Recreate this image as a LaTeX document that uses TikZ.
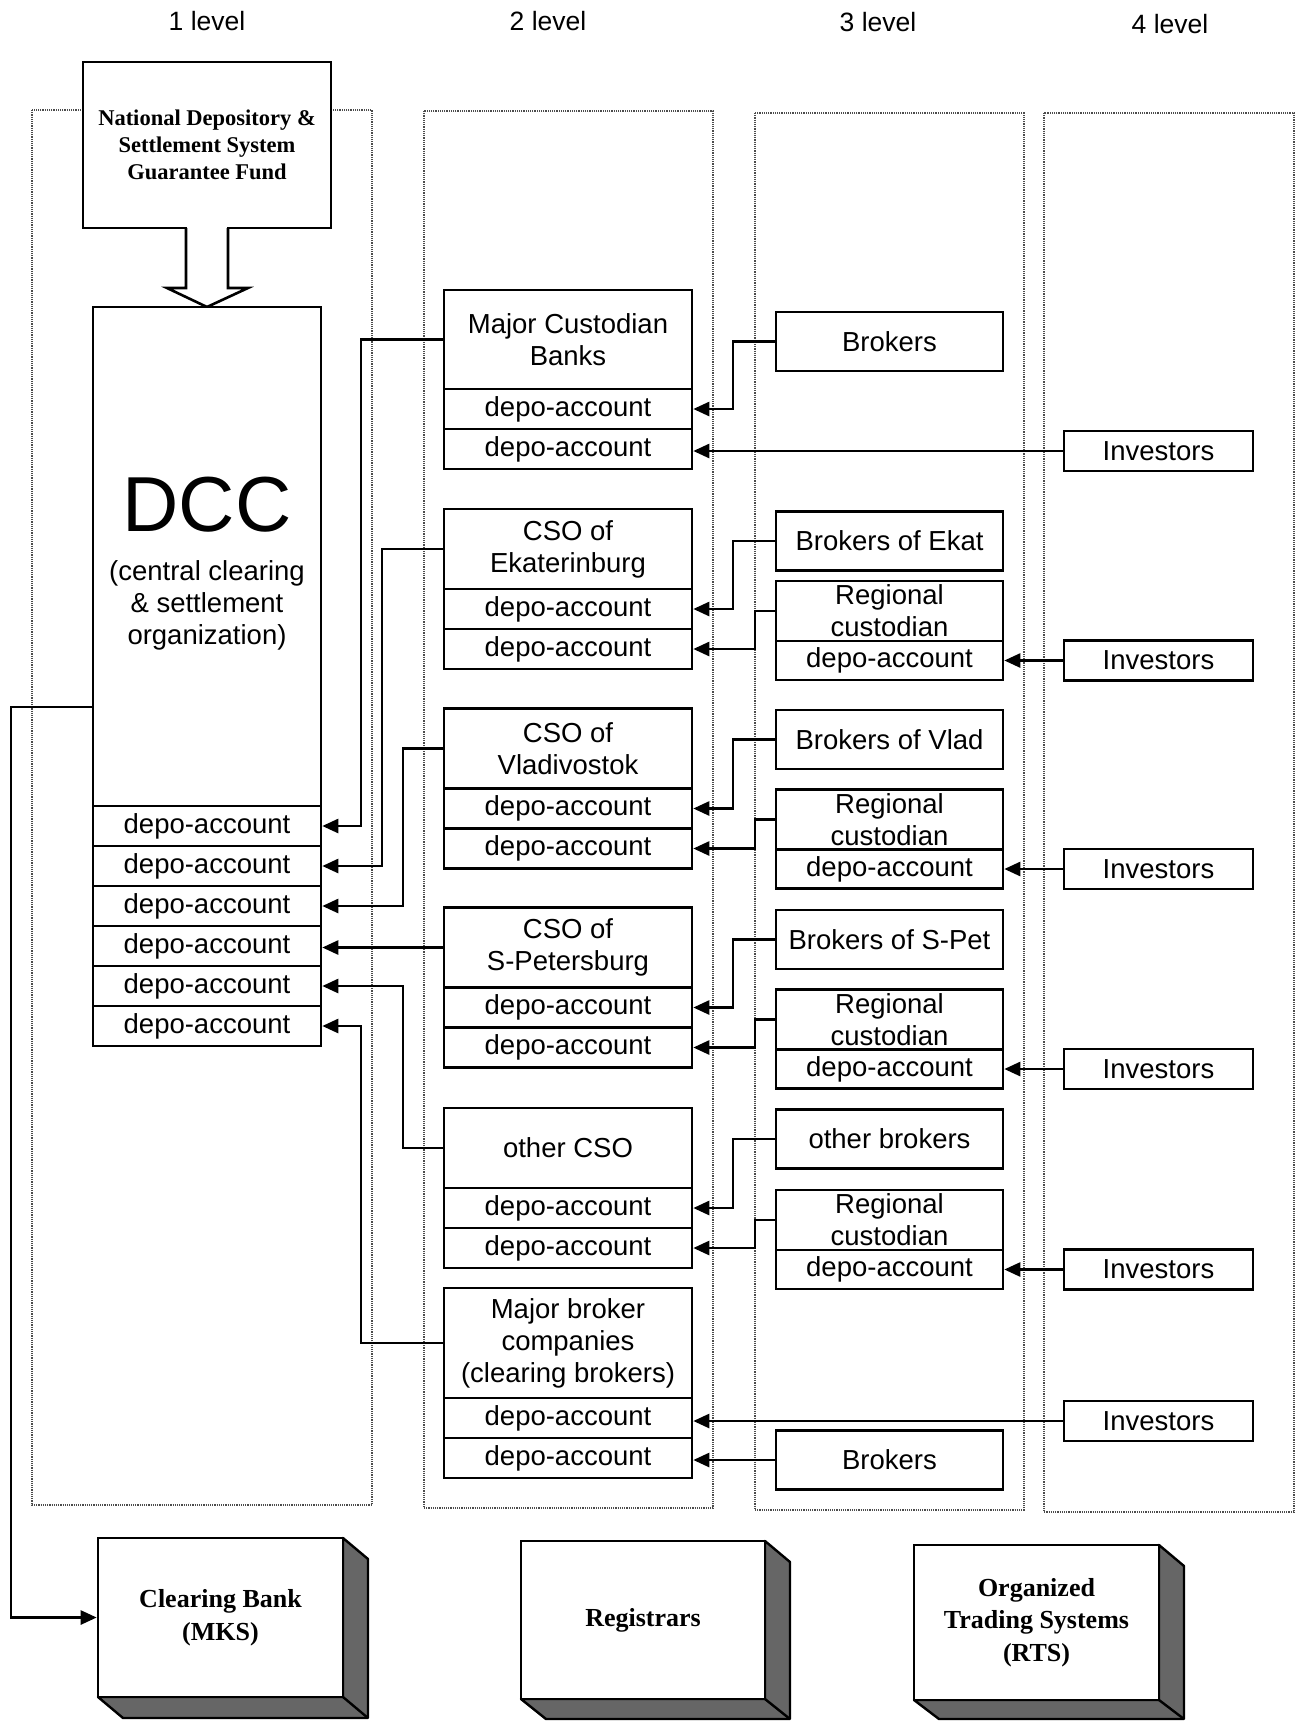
\documentclass[tikz,border=0pt]{standalone}
\usepackage{fontspec}
\setmainfont{Liberation Sans}
\newfontfamily\tnr{Liberation Serif}
\usetikzlibrary{arrows.meta}
\begin{document}
\begin{tikzpicture}[x=1pt,y=-1pt,
  txt/.style={font=\fontsize{27.5}{32}\selectfont, inner sep=0pt, align=center},
  box/.style={draw, line width=2.6pt, fill=white, inner sep=0pt, align=center, font=\fontsize{27.5}{32}\selectfont},
  ctwo/.style={box, minimum width=248pt},
  cthree/.style={box, minimum width=227pt},
  invbox/.style={box, minimum width=189pt, minimum height=40pt},
  row/.style={minimum height=40pt},
  conn/.style={line width=2.6pt, -{Triangle[length=16pt,width=14pt]}},
  colbox/.style={draw=black!70, line width=1.1pt, dash pattern=on 1.2pt off 1pt},
  hdr/.style={font=\fontsize{26.5}{30}\selectfont, inner sep=0pt},
  shade3d/.style={draw, line width=2.4pt, fill=black!60, line join=round},
  face3d/.style={draw, line width=2.6pt, fill=white, inner sep=0pt, align=center, font=\tnr\bfseries\fontsize{26}{32.5}\selectfont},
]
\useasboundingbox (0,0) rectangle (1296,1721);

% column frames
\draw[colbox] (32,110) rectangle (372,1505);
\draw[colbox] (424,111) rectangle (713,1508);
\draw[colbox] (755,113) rectangle (1024,1510);
\draw[colbox] (1044,113) rectangle (1294,1512);

% headers
\node[hdr] (h1) at (207,21) {1 level};
\node[hdr] (h2) at (548,21) {2 level};
\node[hdr] (h3) at (878,22) {3 level};
\node[hdr] (h4) at (1170,24) {4 level};

% National depository box + block arrow
\node[box, minimum width=248pt, minimum height=166pt, font=\tnr\bfseries\fontsize{22.5}{27}\selectfont] (nds) at (207,145) {National Depository \&\\Settlement System\\Guarantee Fund};
\fill[white] (187.4,224) rectangle (226.6,232);
\draw[line width=2.6pt, fill=white, line join=miter] (186,228) -- (186,288) -- (167,288) -- (207,307) -- (248,288) -- (228,288) -- (228,228);

% DCC
\node[box, minimum width=228pt, minimum height=499pt] (dcc) at (207,556.5) {};
\node[font=\fontsize{78}{82}\selectfont, inner sep=0pt] (dccT) at (207,505) {DCC};
\node[txt] (dccS) at (207,605) {(central clearing\\\& settlement\\organization)};
\node[box, row, minimum width=228pt] (d1) at (207,826) {depo-account};
\node[box, row, minimum width=228pt] (d2) at (207,866) {depo-account};
\node[box, row, minimum width=228pt] (d3) at (207,906) {depo-account};
\node[box, row, minimum width=228pt] (d4) at (207,946) {depo-account};
\node[box, row, minimum width=228pt] (d5) at (207,986) {depo-account};
\node[box, row, minimum width=228pt] (d6) at (207,1026) {depo-account};

% level 2
\node[ctwo, minimum height=99pt] (mcb) at (568,339.5) {Major Custodian\\Banks};
\node[ctwo, row] (mcb1) at (568,409) {depo-account};
\node[ctwo, row] (mcb2) at (568,449) {depo-account};

\node[ctwo, minimum height=80pt] (ekat) at (568,549) {CSO of\\Ekaterinburg};
\node[ctwo, row] (ekat1) at (568,609) {depo-account};
\node[ctwo, row] (ekat2) at (568,649) {depo-account};

\node[ctwo, minimum height=80pt] (vlad) at (568,748.5) {CSO of\\Vladivostok};
\node[ctwo, row] (vlad1) at (568,808.5) {depo-account};
\node[ctwo, row] (vlad2) at (568,848.5) {depo-account};

\node[ctwo, minimum height=80pt] (spet) at (568,947.5) {CSO of\\S-Petersburg};
\node[ctwo, row] (spet1) at (568,1007.5) {depo-account};
\node[ctwo, row] (spet2) at (568,1047.5) {depo-account};

\node[ctwo, minimum height=80pt] (oth) at (568,1148) {other CSO};
\node[ctwo, row] (oth1) at (568,1208) {depo-account};
\node[ctwo, row] (oth2) at (568,1248) {depo-account};

\node[ctwo, minimum height=110pt] (mbc) at (568,1343) {Major broker\\companies\\(clearing brokers)};
\node[ctwo, row] (mbc1) at (568,1418) {depo-account};
\node[ctwo, row] (mbc2) at (568,1458) {depo-account};

% level 3
\node[cthree, minimum height=59pt] (brk1) at (889.5,341.5) {Brokers};
\node[cthree, minimum height=59pt] (brkE) at (889.5,541) {Brokers of Ekat};
\node[cthree, minimum height=60pt] (rcE) at (889.5,611) {Regional\\custodian};
\node[cthree, minimum height=39pt] (rcEd) at (889.5,660.5) {depo-account};
\node[cthree, minimum height=59pt] (brkV) at (889.5,739.5) {Brokers of Vlad};
\node[cthree, minimum height=60pt] (rcV) at (889.5,819.5) {Regional\\custodian};
\node[cthree, minimum height=39pt] (rcVd) at (889.5,869) {depo-account};
\node[cthree, minimum height=59pt] (brkS) at (889.5,939.5) {Brokers of S-Pet};
\node[cthree, minimum height=60pt] (rcS) at (889.5,1019.5) {Regional\\custodian};
\node[cthree, minimum height=39pt] (rcSd) at (889.5,1069) {depo-account};
\node[cthree, minimum height=59pt] (brkO) at (889.5,1139) {other brokers};
\node[cthree, minimum height=60pt] (rcO) at (889.5,1220) {Regional\\custodian};
\node[cthree, minimum height=39pt] (rcOd) at (889.5,1269.5) {depo-account};
\node[cthree, minimum height=59pt] (brkB) at (889.5,1460) {Brokers};

% level 4
\node[invbox] (inv1) at (1158.5,451) {Investors};
\node[invbox] (invE) at (1158.5,660.5) {Investors};
\node[invbox] (invV) at (1158.5,869) {Investors};
\node[invbox] (invS) at (1158.5,1069) {Investors};
\node[invbox] (invO) at (1158.5,1269.5) {Investors};
\node[invbox] (invB) at (1158.5,1421) {Investors};

% bottom 3D boxes
\draw[shade3d] (343,1538) -- (368,1559) -- (368,1718) -- (123,1718) -- (98,1697) -- (343,1697) -- cycle;
\draw[line width=2.4pt] (343,1697) -- (368,1718);
\node[face3d, minimum width=245pt, minimum height=159pt] (cb) at (220.5,1617.5) {Clearing Bank\\(MKS)};

\draw[shade3d] (765,1541) -- (790,1562) -- (790,1719) -- (546,1719) -- (521,1699) -- (765,1699) -- cycle;
\draw[line width=2.4pt] (765,1699) -- (790,1719);
\node[face3d, minimum width=244pt, minimum height=158pt] (reg) at (643,1620) {Registrars};

\draw[shade3d] (1159,1545) -- (1184,1566) -- (1184,1719) -- (939,1719) -- (914,1700) -- (1159,1700) -- cycle;
\draw[line width=2.4pt] (1159,1700) -- (1184,1719);
\node[face3d, minimum width=245pt, minimum height=155pt] (rts) at (1036.5,1622.5) {Organized\\Trading Systems\\(RTS)};

% lanes
\coordinate (lA) at (361,0);
\coordinate (lB) at (382,0);
\coordinate (lC) at (403,0);
\coordinate (lD) at (733,0);
\coordinate (lE) at (755,0);
\coordinate (lL) at (11,0);
\coordinate (cbOut) at (93,707);

% level 2 -> DCC
\draw[conn] (mcb.west) -- (mcb.west -| lA) |- (d1.east);
\draw[conn] (ekat.west) -- (ekat.west -| lB) |- (d2.east);
\draw[conn] (vlad.west) -- (vlad.west -| lC) |- (d3.east);
\draw[conn] (spet.west) -- (spet.west -| d4.east);
\draw[conn] (oth.west) -- (oth.west -| lC) |- (d5.east);
\draw[conn] (mbc.west) -- (mbc.west -| lA) |- (d6.east);

% DCC -> clearing bank
\draw[conn] (cbOut) -- (cbOut -| lL) |- (cb.west);

% level 3 -> level 2
\draw[conn] (brk1.west) -- (brk1.west -| lD) |- (mcb1.east);
\draw[conn] (inv1.west) -- (inv1.west -| mcb2.east);
\draw[conn] (brkE.west) -- (brkE.west -| lD) |- (ekat1.east);
\draw[conn] (rcE.west) -- (rcE.west -| lE) |- (ekat2.east);
\draw[conn] (brkV.west) -- (brkV.west -| lD) |- (vlad1.east);
\draw[conn] (rcV.west) -- (rcV.west -| lE) |- (vlad2.east);
\draw[conn] (brkS.west) -- (brkS.west -| lD) |- (spet1.east);
\draw[conn] (rcS.west) -- (rcS.west -| lE) |- (spet2.east);
\draw[conn] (brkO.west) -- (brkO.west -| lD) |- (oth1.east);
\draw[conn] (rcO.west) -- (rcO.west -| lE) |- (oth2.east);
\draw[conn] (invB.west) -- (invB.west -| mbc1.east);
\draw[conn] (brkB.west) -- (brkB.west -| mbc2.east);

% level 4 -> regional custodians
\draw[conn] (invE.west) -- (rcEd.east);
\draw[conn] (invV.west) -- (rcVd.east);
\draw[conn] (invS.west) -- (rcSd.east);
\draw[conn] (invO.west) -- (rcOd.east);
\end{tikzpicture}
\end{document}
